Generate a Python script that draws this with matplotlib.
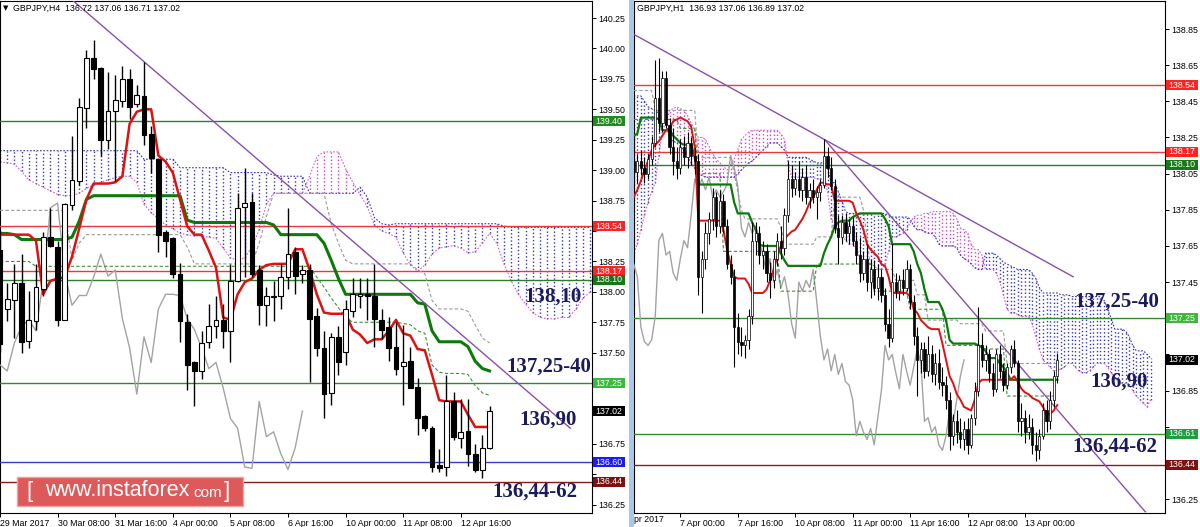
import matplotlib
matplotlib.use("Agg")
import matplotlib.pyplot as plt
from matplotlib.patches import Rectangle
import numpy as np

W, H = 1200, 527

# ---------------- LEFT PANEL (GBPJPY H4) ----------------
L_open = [138.34, 137.86, 137.93, 138.07, 137.60, 137.76, 138.02, 138.45, 138.37, 137.77, 138.71, 138.91, 139.51, 139.92, 139.84, 139.25, 139.49, 139.57, 139.75, 139.54, 139.61, 139.30, 139.09, 138.49, 138.44, 138.15, 137.75, 137.42, 137.35, 137.59, 137.72, 137.77, 137.68, 138.09, 138.70, 138.74, 138.18, 137.89, 137.96, 137.97, 138.12, 138.33, 138.15, 138.18, 137.80, 137.54, 137.17, 137.63, 137.51, 137.84, 137.97, 137.98, 137.97, 137.77, 137.71, 137.55, 137.39, 137.43, 137.22, 136.98, 136.88, 136.58, 136.56, 137.10, 136.80, 136.86, 136.67, 136.54, 136.72]
L_high = [138.51, 138.07, 138.23, 138.31, 138.01, 138.23, 138.49, 138.69, 138.42, 138.73, 139.28, 139.59, 139.99, 140.07, 139.85, 139.81, 139.78, 139.86, 139.835, 139.70, 139.89, 139.36, 139.10, 138.51, 138.45, 138.24, 137.82, 137.43, 137.68, 137.90, 137.97, 137.90, 138.23, 138.81, 139.02, 138.81, 138.22, 138.04, 138.09, 138.23, 138.69, 138.37, 138.22, 138.23, 137.87, 137.68, 137.66, 137.72, 137.93, 138.11, 138.11, 138.11, 138.23, 137.86, 137.79, 137.75, 137.73, 137.55, 137.29, 136.99, 136.90, 136.71, 137.32, 137.18, 137.12, 137.12, 136.75, 136.82, 137.06]
L_low = [137.51, 137.76, 137.62, 137.50, 137.54, 137.69, 137.97, 138.37, 137.72, 137.77, 138.67, 138.88, 139.35, 139.75, 139.12, 139.17, 138.91, 139.52, 139.42, 139.52, 139.21, 138.98, 138.33, 138.29, 138.11, 137.59, 137.19, 137.06, 137.28, 137.54, 137.62, 137.54, 137.42, 138.08, 138.12, 138.12, 137.73, 137.72, 137.76, 137.86, 138.02, 137.98, 138.07, 137.26, 137.47, 136.96, 137.07, 137.32, 137.40, 137.79, 137.87, 137.77, 137.55, 137.61, 137.43, 137.32, 137.07, 137.21, 136.82, 136.86, 136.52, 136.52, 136.49, 136.78, 136.72, 136.57, 136.52, 136.47, 136.71]
L_close = [137.57, 137.94, 138.07, 137.59, 137.77, 138.04, 138.45, 138.38, 137.77, 138.72, 138.92, 139.52, 139.92, 139.835, 139.25, 139.49, 139.58, 139.75, 139.52, 139.62, 139.29, 139.10, 138.47, 138.42, 138.15, 137.76, 137.40, 137.35, 137.58, 137.72, 137.77, 137.68, 138.09, 138.69, 138.73, 138.15, 137.89, 137.97, 137.97, 138.12, 138.31, 138.13, 138.18, 137.78, 137.54, 137.16, 137.63, 137.42, 137.86, 137.98, 137.98, 137.97, 137.78, 137.69, 137.54, 137.37, 137.42, 137.21, 136.96, 136.88, 136.56, 136.55, 137.10, 136.81, 136.85, 136.67, 136.54, 136.72, 137.02]
L_tenkan = [138.47, 138.47, 138.47, 138.47, 138.47, 138.42, 137.98, 138.09, 138.11, 138.12, 138.29, 138.52, 138.76, 138.89, 138.89, 138.89, 138.90, 138.95, 139.38, 139.48, 139.50, 139.50, 139.12, 139.07, 138.98, 138.76, 138.54, 138.47, 138.47, 138.34, 138.20, 137.79, 137.77, 137.98, 138.08, 138.11, 138.18, 138.22, 138.23, 138.23, 138.23, 138.35, 138.35, 138.18, 137.98, 137.83, 137.82, 137.82, 137.82, 137.69, 137.65, 137.58, 137.61, 137.61, 137.68, 137.77, 137.66, 137.64, 137.53, 137.52, 137.32, 137.11, 137.10, 137.10, 137.10, 136.99, 136.89, 136.89, 136.89]
L_kijun = [138.48, 138.48, 138.47, 138.43, 138.43, 138.43, 138.43, 138.43, 138.43, 138.43, 138.45, 138.58, 138.76, 138.79, 138.79, 138.79, 138.79, 138.79, 138.79, 138.79, 138.79, 138.79, 138.79, 138.79, 138.79, 138.79, 138.59, 138.57, 138.57, 138.57, 138.57, 138.57, 138.57, 138.57, 138.57, 138.57, 138.57, 138.57, 138.55, 138.47, 138.47, 138.47, 138.47, 138.47, 138.47, 138.40, 138.26, 138.11, 137.98, 137.98, 137.98, 137.98, 137.98, 137.98, 137.98, 137.98, 137.98, 137.98, 137.91, 137.90, 137.68, 137.59, 137.59, 137.59, 137.59, 137.55, 137.43, 137.37, 137.35]
L_aux_gray = [138.67, 138.67, 138.67, 138.67, 138.67, 138.67, 138.67, 138.67, 138.67, 138.67, 138.26, 138.40, 138.47, 138.47, 138.47, 138.47, 138.47, 138.47, 138.47, 138.47, 138.47, 138.47, 138.47, 138.47, 138.47, 138.47, 138.37, 138.23, 138.23, 138.23, 138.23, 138.23, 138.23, 138.23, 138.23, 138.23, 138.40, 138.62, 138.81, 138.81, 138.81, 138.81, 138.81, 138.81, 138.81, 138.81, 138.56, 138.40, 138.26, 138.23, 138.23, 138.23, 138.23, 138.23, 138.23, 138.23, 138.23, 138.23, 138.18, 138.15, 137.93, 137.86, 137.86, 137.86, 137.86, 137.84, 137.73, 137.62, 137.58]
L_aux_green = [138.25, 138.25, 138.25, 138.25, 138.25, 138.21, 138.21, 138.21, 138.21, 138.21, 138.21, 138.21, 138.21, 138.21, 138.21, 138.21, 138.21, 138.21, 138.21, 138.21, 138.21, 138.21, 138.21, 138.21, 138.21, 138.21, 138.21, 138.21, 138.21, 138.21, 138.21, 138.21, 138.21, 138.21, 138.21, 138.21, 138.21, 138.21, 138.21, 138.21, 138.21, 138.21, 138.21, 138.21, 138.12, 138.04, 137.95, 137.87, 137.79, 137.75, 137.75, 137.75, 137.75, 137.75, 137.75, 137.75, 137.74, 137.73, 137.68, 137.66, 137.40, 137.34, 137.33, 137.33, 137.33, 137.32, 137.23, 137.17, 137.15]
L_spanA = [139.16, 139.16, 139.16, 139.16, 139.16, 139.16, 139.16, 139.16, 139.16, 139.16, 139.16, 139.16, 139.16, 139.16, 139.16, 139.16, 139.16, 139.16, 139.16, 139.16, 139.09, 139.09, 139.09, 139.09, 139.09, 139.02, 139.02, 139.02, 139.02, 139.02, 139.02, 139.02, 138.98, 138.98, 138.98, 138.98, 138.98, 138.98, 138.96, 138.95, 138.95, 138.95, 138.95, 138.81, 138.81, 138.81, 138.81, 138.81, 138.81, 138.81, 138.86, 138.78, 138.61, 138.56, 138.55, 138.56, 138.56, 138.56, 138.56, 138.56, 138.56, 138.56, 138.56, 138.56, 138.56, 138.56, 138.56, 138.56, 138.56, 138.56, 138.54, 138.53, 138.53, 138.53, 138.53, 138.53, 138.53, 138.53, 138.53, 138.53, 138.53, 138.53, 138.53]
L_spanB = [139.07, 139.06, 139.05, 138.99, 138.92, 138.89, 138.86, 138.83, 138.80, 138.79, 138.79, 138.81, 138.85, 138.88, 138.90, 138.92, 138.94, 138.95, 138.95, 138.90, 138.72, 138.65, 138.60, 138.55, 138.52, 138.48, 138.47, 138.46, 138.46, 138.45, 138.44, 138.36, 138.28, 138.26, 138.28, 138.37, 138.51, 138.72, 138.81, 138.81, 138.81, 138.81, 138.81, 138.95, 139.11, 139.15, 139.15, 139.15, 139.01, 138.90, 138.80, 138.70, 138.55, 138.50, 138.48, 138.45, 138.32, 138.22, 138.17, 138.22, 138.31, 138.36, 138.37, 138.38, 138.36, 138.32, 138.33, 138.40, 138.48, 138.40, 138.23, 138.09, 137.98, 137.90, 137.83, 137.79, 137.78, 137.78, 137.79, 137.79, 137.86, 137.95, 138.00]
L_xtick_pos = [0, 8, 16, 24, 32, 40, 48, 56, 64]
L_xtick_lab = ["29 Mar 2017", "30 Mar 08:00", "31 Mar 16:00", "4 Apr 00:00", "5 Apr 08:00",
               "6 Apr 16:00", "10 Apr 00:00", "11 Apr 08:00", "12 Apr 16:00"]
L_yticks = [136.25, 136.50, 136.75, 137.00, 137.25, 137.50, 137.75, 138.00, 138.25,
            138.50, 138.75, 139.00, 139.25, 139.50, 139.75, 140.00, 140.25]
L_ylab_hidden = [136.50, 137.00, 137.25, 138.50]   # covered by the price boxes
L_levels = [139.40, 138.54, 138.17, 138.10, 137.25, 136.60, 136.44]
L_level_cols = ["#2e7d2e", "#e83a3a", "#e83a3a", "#2e7d2e", "#2e8b2e", "#3a3acc", "#8b1a1a"]
L_box_vals = [139.40, 138.54, 138.17, 138.10, 137.25, 137.02, 136.60, 136.44]
L_box_cols = ["#1e8c1e", "#ff2222", "#ff2222", "#187818", "#3cb83c", "#000000", "#1a1aff", "#7e1010"]
L_trend = ([10.0, 79.2], [140.40, 136.88])
L_header = "GBPJPY,H4  136.72 137.06 136.71 137.02"

# ---------------- RIGHT PANEL (GBPJPY H1) ----------------
R_open = [138.12, 138.06, 138.12, 138.08, 138.05, 138.13, 138.22, 138.47, 138.33, 138.58, 138.32, 138.20, 138.12, 138.08, 138.20, 138.14, 138.22, 138.15, 138.12, 137.48, 137.58, 137.72, 137.80, 137.92, 137.76, 137.90, 137.76, 137.55, 137.48, 137.20, 137.12, 137.10, 137.13, 137.26, 137.68, 137.72, 137.60, 137.62, 137.50, 137.46, 137.58, 137.68, 137.64, 137.82, 138.02, 137.97, 138.02, 137.96, 138.03, 137.92, 137.96, 137.92, 137.95, 137.99, 138.15, 138.08, 137.98, 137.75, 137.70, 137.78, 137.72, 137.76, 137.68, 137.60, 137.50, 137.58, 137.45, 137.52, 137.42, 137.48, 137.38, 137.22, 137.14, 137.45, 137.40, 137.46, 137.42, 137.52, 137.34, 137.15, 137.02, 137.08, 136.96, 137.05, 136.94, 137.00, 136.90, 136.88, 136.80, 136.60, 136.68, 136.62, 136.58, 136.64, 136.55, 136.70, 136.85, 137.10, 137.02, 137.05, 136.95, 136.86, 137.05, 136.96, 136.88, 136.98, 137.08, 137.00, 136.68, 136.70, 136.62, 136.65, 136.55, 136.52, 136.60, 136.74, 136.68, 136.80, 136.93]
R_high = [138.26, 138.16, 138.18, 138.14, 138.16, 138.26, 138.68, 138.69, 138.62, 138.62, 138.36, 138.30, 138.20, 138.24, 138.26, 138.28, 138.25, 138.20, 138.16, 137.62, 137.78, 137.84, 137.97, 137.95, 137.96, 137.94, 137.80, 137.60, 137.52, 137.28, 137.20, 137.16, 137.30, 137.78, 137.78, 137.76, 137.68, 137.66, 137.56, 137.62, 137.72, 137.76, 137.86, 138.12, 138.10, 138.06, 138.12, 138.08, 138.10, 138.00, 138.02, 137.98, 138.02, 138.24, 138.20, 138.14, 138.02, 137.82, 137.82, 137.83, 137.80, 137.81, 137.73, 137.70, 137.62, 137.66, 137.58, 137.57, 137.55, 137.52, 137.42, 137.30, 137.66, 137.50, 137.49, 137.52, 137.57, 137.55, 137.38, 137.20, 137.12, 137.12, 137.15, 137.10, 137.06, 137.08, 136.98, 136.93, 136.84, 136.72, 136.74, 136.70, 136.68, 136.70, 136.72, 136.90, 137.31, 137.17, 137.10, 137.08, 137.00, 137.08, 137.10, 137.00, 137.00, 137.10, 137.13, 137.02, 136.78, 136.74, 136.72, 136.70, 136.62, 136.64, 136.78, 136.80, 136.85, 136.96, 137.06]
R_low = [137.98, 138.00, 138.04, 138.00, 138.02, 138.10, 138.20, 138.28, 138.28, 138.30, 138.16, 138.04, 138.02, 138.05, 138.10, 138.08, 138.10, 138.05, 137.38, 137.28, 137.52, 137.66, 137.74, 137.70, 137.72, 137.72, 137.52, 137.44, 136.98, 137.05, 137.04, 137.03, 137.08, 137.22, 137.60, 137.55, 137.52, 137.45, 137.36, 137.42, 137.54, 137.58, 137.60, 137.78, 137.92, 137.93, 137.92, 137.90, 137.88, 137.86, 137.89, 137.80, 137.90, 137.97, 138.03, 137.96, 137.72, 137.55, 137.66, 137.68, 137.66, 137.65, 137.55, 137.45, 137.46, 137.40, 137.36, 137.38, 137.35, 137.34, 137.18, 137.09, 137.12, 137.36, 137.35, 137.38, 137.40, 137.30, 137.10, 136.82, 136.95, 136.92, 136.93, 136.90, 136.88, 136.86, 136.82, 136.75, 136.52, 136.55, 136.56, 136.53, 136.52, 136.50, 136.53, 136.66, 136.82, 136.98, 136.96, 136.90, 136.82, 136.84, 136.92, 136.85, 136.86, 136.95, 136.98, 136.62, 136.60, 136.56, 136.58, 136.50, 136.46, 136.47, 136.58, 136.62, 136.64, 136.76, 136.89]
R_close = [138.06, 138.12, 138.08, 138.05, 138.13, 138.22, 138.47, 138.33, 138.58, 138.32, 138.20, 138.12, 138.08, 138.20, 138.14, 138.22, 138.15, 138.12, 137.48, 137.58, 137.72, 137.80, 137.92, 137.76, 137.90, 137.76, 137.55, 137.48, 137.20, 137.12, 137.10, 137.13, 137.26, 137.68, 137.72, 137.60, 137.62, 137.50, 137.46, 137.58, 137.68, 137.64, 137.82, 138.02, 137.97, 138.02, 137.96, 138.03, 137.92, 137.96, 137.92, 137.95, 137.99, 138.15, 138.08, 137.98, 137.75, 137.70, 137.78, 137.72, 137.76, 137.68, 137.60, 137.50, 137.58, 137.45, 137.52, 137.42, 137.48, 137.38, 137.22, 137.14, 137.45, 137.40, 137.46, 137.42, 137.52, 137.34, 137.15, 137.02, 137.08, 136.96, 137.05, 136.94, 137.00, 136.90, 136.88, 136.80, 136.60, 136.68, 136.62, 136.58, 136.64, 136.55, 136.70, 136.85, 137.10, 137.02, 137.05, 136.95, 136.86, 137.05, 136.96, 136.88, 136.98, 137.08, 137.00, 136.68, 136.70, 136.62, 136.65, 136.55, 136.52, 136.60, 136.74, 136.68, 136.80, 136.93, 137.02]
R_tenkan = [137.92, 137.96, 138.01, 138.07, 138.12, 138.18, 138.21, 138.23, 138.26, 138.29, 138.30, 138.34, 138.35, 138.36, 138.35, 138.34, 138.31, 138.20, 137.79, 137.79, 137.79, 137.79, 137.79, 137.79, 137.79, 137.74, 137.63, 137.55, 137.48, 137.47, 137.47, 137.47, 137.44, 137.39, 137.39, 137.39, 137.39, 137.41, 137.46, 137.52, 137.59, 137.65, 137.69, 137.71, 137.73, 137.74, 137.77, 137.80, 137.84, 137.89, 137.92, 137.96, 138.00, 138.00, 137.99, 137.99, 137.90, 137.90, 137.90, 137.90, 137.90, 137.89, 137.83, 137.79, 137.74, 137.66, 137.63, 137.61, 137.59, 137.55, 137.54, 137.48, 137.39, 137.39, 137.39, 137.39, 137.39, 137.37, 137.30, 137.28, 137.24, 137.22, 137.20, 137.19, 137.19, 137.19, 137.11, 137.02, 136.93, 136.89, 136.83, 136.80, 136.76, 136.75, 136.74, 136.80, 136.89, 136.91, 136.91, 136.91, 136.91, 136.91, 136.91, 136.91, 136.91, 136.91, 136.93, 136.90, 136.86, 136.84, 136.83, 136.81, 136.80, 136.79, 136.76, 136.72, 136.72, 136.74, 136.77]
R_kijun = [138.26, 138.27, 138.36, 138.36, 138.36, 138.36, 138.36, 138.35, 138.29, 138.29, 138.29, 138.26, 138.24, 138.22, 138.21, 138.21, 138.21, 138.14, 137.99, 137.99, 137.99, 137.99, 137.99, 137.99, 137.99, 137.99, 137.99, 137.99, 137.89, 137.83, 137.83, 137.83, 137.83, 137.78, 137.74, 137.66, 137.65, 137.65, 137.65, 137.65, 137.65, 137.61, 137.57, 137.54, 137.54, 137.54, 137.54, 137.54, 137.54, 137.54, 137.54, 137.54, 137.54, 137.61, 137.66, 137.70, 137.76, 137.78, 137.79, 137.79, 137.79, 137.81, 137.82, 137.83, 137.83, 137.83, 137.83, 137.83, 137.83, 137.83, 137.80, 137.76, 137.66, 137.66, 137.66, 137.66, 137.66, 137.66, 137.62, 137.55, 137.50, 137.41, 137.34, 137.34, 137.34, 137.34, 137.30, 137.24, 137.13, 137.11, 137.11, 137.11, 137.11, 137.11, 137.11, 137.11, 137.10, 137.09, 137.07, 137.03, 137.03, 137.03, 137.00, 136.98, 136.95, 136.91, 136.91, 136.91, 136.91, 136.91, 136.91, 136.91, 136.91, 136.91, 136.91, 136.91, 136.91, 136.91, 136.91]
R_aux_gray = [138.51, 138.51, 138.51, 138.51, 138.51, 138.51, 138.40, 138.40, 138.40, 138.40, 138.40, 138.40, 138.40, 138.40, 138.40, 138.40, 138.40, 138.40, 138.14, 138.14, 138.14, 138.14, 138.14, 138.14, 138.14, 138.14, 138.14, 138.14, 138.05, 137.95, 137.85, 137.80, 137.80, 137.80, 137.80, 137.80, 137.80, 137.80, 137.80, 137.80, 137.80, 137.75, 137.66, 137.66, 137.66, 137.66, 137.66, 137.66, 137.66, 137.66, 137.66, 137.70, 137.70, 137.70, 137.70, 137.70, 137.92, 137.92, 137.92, 137.92, 137.92, 137.92, 137.92, 137.92, 137.85, 137.70, 137.52, 137.52, 137.52, 137.52, 137.52, 137.52, 137.52, 137.46, 137.46, 137.46, 137.46, 137.46, 137.46, 137.38, 137.38, 137.38, 137.24, 137.24, 137.24, 137.24, 137.24, 137.24, 137.24, 137.24, 137.24, 137.22, 137.22, 137.22, 137.22, 137.22, 137.22, 137.22, 137.18, 137.18, 137.18, 137.18, 137.18, 137.18, 137.00, 137.00, 137.00, 137.00, 137.00, 137.00, 137.00, 137.00, 137.00, 137.00, 137.00, 137.00, 137.00, 137.00, 137.00]
R_aux_green = [138.35, 138.35, 138.35, 138.35, 138.35, 138.35, 138.35, 138.35, 138.35, 138.35, 138.35, 138.35, 138.35, 138.30, 138.30, 138.30, 138.30, 138.30, 138.05, 138.05, 138.05, 138.05, 138.05, 138.05, 138.05, 137.62, 137.62, 137.62, 137.62, 137.62, 137.62, 137.62, 137.62, 137.62, 137.62, 137.62, 137.62, 137.62, 137.62, 137.62, 137.62, 137.40, 137.40, 137.40, 137.40, 137.40, 137.40, 137.40, 137.40, 137.40, 137.40, 137.55, 137.55, 137.55, 137.55, 137.55, 137.55, 137.55, 137.55, 137.55, 137.55, 137.55, 137.55, 137.55, 137.55, 137.55, 137.55, 137.40, 137.40, 137.40, 137.40, 137.40, 137.40, 137.40, 137.40, 137.40, 137.40, 137.30, 137.30, 137.30, 137.30, 137.30, 137.30, 137.30, 137.30, 137.30, 137.30, 137.10, 137.10, 137.10, 137.10, 137.10, 137.10, 137.10, 137.10, 137.10, 137.10, 137.10, 137.08, 137.08, 137.08, 137.08, 137.08, 137.08, 136.82, 136.82, 136.82, 136.82, 136.82, 136.82, 136.82, 136.82, 136.82, 136.82, 136.82, 136.82, 136.82, 136.82, 136.82]
R_spanA = [138.48, 138.48, 138.48, 138.45, 138.42, 138.41, 138.40, 138.38, 138.36, 138.33,
           138.24, 138.23, 138.22, 138.20, 138.18, 138.14, 138.11, 138.08, 138.05, 138.04,
           138.03, 138.03, 138.03, 138.03, 138.03, 138.03, 138.03, 138.03, 138.03, 138.05,
           138.07, 138.09, 138.11, 138.12, 138.14, 138.16, 138.18, 138.20, 138.22, 138.22,
           138.22, 138.20, 138.18, 138.14, 138.14, 138.14, 138.14, 138.14, 138.14, 138.13,
           138.12, 138.11, 138.11, 138.11, 138.08, 138.00, 138.00, 137.95, 137.90, 137.84,
           137.83, 137.83, 137.83, 137.83, 137.83, 137.83, 137.83, 137.83, 137.83, 137.83,
           137.83, 137.82, 137.81, 137.81, 137.81, 137.81, 137.81, 137.80, 137.76, 137.74,
           137.74, 137.73, 137.72, 137.72, 137.70, 137.66, 137.65, 137.65, 137.65, 137.65,
           137.64, 137.60, 137.58, 137.57, 137.55, 137.53, 137.52, 137.52, 137.61, 137.61,
           137.61, 137.60, 137.58, 137.56, 137.55, 137.54, 137.53, 137.52, 137.52, 137.52,
           137.52, 137.50, 137.47, 137.42, 137.39, 137.39, 137.39, 137.39, 137.39, 137.38,
           137.38, 137.38, 137.37, 137.37, 137.37, 137.37, 137.37, 137.37, 137.37, 137.37,
           137.37, 137.35, 137.30, 137.25, 137.19, 137.19, 137.19, 137.18, 137.15, 137.10,
           137.07, 137.07, 137.07, 137.05, 137.03]
R_spanB = [137.61, 137.66, 137.74, 137.82, 137.89, 137.95, 138.00, 138.15, 138.29, 138.33,
           138.40, 138.41, 138.42, 138.41, 138.40, 138.37, 138.33, 138.29, 138.25, 138.25,
           138.24, 138.20, 138.16, 138.13, 138.11, 138.09, 138.07, 138.10, 138.13, 138.18,
           138.24, 138.26, 138.28, 138.29, 138.29, 138.29, 138.29, 138.29, 138.29, 138.29,
           138.29, 138.27, 138.24, 138.10, 138.03, 138.03, 138.03, 138.03, 138.03, 138.03,
           138.03, 138.02, 138.02, 138.02, 137.95, 137.80, 137.74, 137.74, 137.72, 137.68,
           137.66, 137.66, 137.64, 137.58, 137.55, 137.55, 137.55, 137.54, 137.52, 137.52,
           137.55, 137.62, 137.70, 137.70, 137.71, 137.72, 137.74, 137.78, 137.81, 137.82,
           137.82, 137.83, 137.83, 137.84, 137.84, 137.84, 137.84, 137.84, 137.84, 137.83,
           137.80, 137.75, 137.74, 137.72, 137.66, 137.63, 137.63, 137.60, 137.52, 137.52,
           137.52, 137.50, 137.45, 137.38, 137.30, 137.28, 137.28, 137.27, 137.26, 137.26,
           137.26, 137.22, 137.15, 137.08, 137.02, 137.00, 136.98, 136.96, 136.96, 136.97,
           136.98, 137.00, 137.00, 136.98, 136.96, 136.95, 136.95, 136.96, 136.98, 137.00,
           137.00, 137.00, 136.98, 136.95, 136.92, 136.90, 136.89, 136.89, 136.88, 136.85,
           136.82, 136.80, 136.78, 136.76, 136.80]
R_xtick_pos = [13, 29, 45, 61, 77, 93, 109]
R_xtick_lab = ["7 Apr 00:00", "7 Apr 16:00", "10 Apr 08:00", "11 Apr 00:00",
               "11 Apr 16:00", "12 Apr 08:00", "13 Apr 00:00"]
R_yticks = [136.25, 136.45, 136.65, 136.85, 137.05, 137.25, 137.45, 137.65, 137.85,
            138.05, 138.25, 138.45, 138.65, 138.85]
R_ylab_hidden = [136.45, 136.65, 137.05, 137.25]   # covered by the price boxes
R_levels = [138.54, 138.17, 138.10, 137.25, 136.61, 136.44]
R_level_cols = ["#e83a3a", "#e83a3a", "#2e7d2e", "#2e8b2e", "#2e8b2e", "#8b1a1a"]
R_box_vals = [138.54, 138.17, 138.10, 137.25, 137.02, 136.61, 136.44]
R_box_cols = ["#ff2222", "#ff2222", "#187818", "#3cb83c", "#000000", "#1e9e3e", "#7e1010"]
R_trend1 = ([0.08, 122.4], [138.82, 137.48])
R_trend2 = ([53.3, 142.5], [138.236, 136.18])
R_header = "GBPJPY,H1  136.93 137.06 136.89 137.02"

CHIKOU_SHIFT = 26
NAVY = "#1b1b5c"
FONT = "Liberation Sans"

fig = plt.figure(figsize=(W / 100, H / 100), dpi=100)
fig.patch.set_facecolor("white")


def add_ax(x0, x1, ytop, ybot):
    return fig.add_axes([x0 / W, 1 - ybot / H, (x1 - x0) / W, (ybot - ytop) / H])


axL = add_ax(0, 592, 1, 513)
axR = add_ax(634, 1165, 1, 513)


def candles(ax, o, h, l, c, width, wlw, blw, minh):
    o, h, l, c = map(np.asarray, (o, h, l, c))
    idx = np.arange(len(o))
    ax.vlines(idx, l, h, color="black", lw=wlw, zorder=6)
    up = c >= o
    bot = np.minimum(o, c)
    hei = np.maximum(np.abs(c - o), minh)
    ax.bar(idx[up], hei[up], width, bot[up], facecolor="white", edgecolor="black", lw=blw, zorder=7)
    ax.bar(idx[~up], hei[~up], width, bot[~up], facecolor="black", edgecolor="black", lw=blw, zorder=7)


def cloud(ax, a, b, lw, dash):
    a, b = np.asarray(a), np.asarray(b)
    k = np.arange(len(a))
    blue = a >= b
    ax.vlines(k[blue], b[blue], a[blue], colors="#3434c4", linestyles=[(0, dash)], lw=lw, zorder=2)
    ax.vlines(k[~blue], a[~blue], b[~blue], colors="#cc44cc", linestyles=[(0, dash)], lw=lw, zorder=2)
    ax.plot(k, a, color="#3434c4", ls=(0, (1.5, 1.5)), lw=0.8, zorder=2)
    ax.plot(k, b, color="#d060d0", ls=(0, (1.5, 1.5)), lw=0.8, zorder=2)


def panel(ax, o, h, l, c, tenkan, kijun, auxg, auxgr, spanA, spanB, levels, lcols,
          xlim, ylim, yticks, hidden, xpos, xlab, width, tk_lw, kj_lw, wlw, blw, minh, clw, dash):
    ax.set_xlim(*xlim)
    ax.set_ylim(*ylim)
    cloud(ax, spanA, spanB, clw, dash)
    for lv, col in zip(levels, lcols):
        ax.axhline(lv, color=col, lw=1.0, zorder=3)
    n = len(c)
    ax.plot(np.arange(n - CHIKOU_SHIFT), np.asarray(c)[CHIKOU_SHIFT:], color="#a3a3a3", lw=1.0, zorder=4)
    ax.plot(np.arange(n), auxg, color="#9a9a9a", ls=(0, (3, 2)), lw=0.8, zorder=4)
    ax.plot(np.arange(n), auxgr, color="#3f8f3f", ls=(0, (3, 2)), lw=0.8, zorder=4)
    ax.plot(np.arange(n), kijun, color="#0a7a0a", lw=kj_lw, zorder=5)
    ax.plot(np.arange(n), tenkan, color="#e01010", lw=tk_lw, zorder=5)
    candles(ax, o, h, l, c, width, wlw, blw, minh)
    ax.yaxis.tick_right()
    ax.set_yticks(yticks)
    ax.set_yticklabels(["" if v in hidden else f"{v:.2f}" for v in yticks])
    ax.set_xticks(xpos)
    ax.set_xticklabels(xlab, ha="left")
    ax.tick_params(axis="both", direction="out", length=3, width=0.7, pad=1.5,
                   labelsize=6.3, colors="black")
    for lab in ax.get_xticklabels() + ax.get_yticklabels():
        lab.set_fontfamily(FONT)
    for sp in ax.spines.values():
        sp.set_color("black")
        sp.set_linewidth(0.8)
    ax.set_facecolor("white")


panel(axL, L_open, L_high, L_low, L_close, L_tenkan, L_kijun, L_aux_gray, L_aux_green,
      L_spanA, L_spanB, L_levels, L_level_cols, (0, 592 / 7.2), (136.183, 140.390),
      L_yticks, L_ylab_hidden, L_xtick_pos, L_xtick_lab, 0.68, 1.8, 2.2, 1.0, 0.8, 0.006, 1.0, (1, 1.6))
panel(axR, R_open, R_high, R_low, R_close, R_tenkan, R_kijun, R_aux_gray, R_aux_green,
      R_spanA, R_spanB, R_levels, R_level_cols, (0.084, 148.0), (136.173, 139.005),
      R_yticks, R_ylab_hidden, R_xtick_pos, R_xtick_lab, 0.62, 1.4, 1.6, 0.8, 0.5, 0.006, 1.0, (1, 1.7))

axL.plot(*L_trend, color="#8a4fae", lw=1.0, zorder=5)
axR.plot(*R_trend1, color="#8a4fae", lw=1.0, zorder=5)
axR.plot(*R_trend2, color="#8a4fae", lw=1.0, zorder=5)

# separator between the two windows
fig.add_artist(Rectangle((629 / W, 0), 5 / W, 1, transform=fig.transFigure,
                         facecolor="#a9c8e6", edgecolor="none", zorder=1))
fig.text(634 / W, 1 - 520 / H, "pr 2017", fontsize=6.3, family=FONT, va="center", ha="left")


def level_boxes(ax, vals, cols, x0, x1):
    for v, col in zip(vals, cols):
        yd = ax.transData.transform((ax.get_xlim()[0], v))[1]
        fig.add_artist(Rectangle((x0 / W, (yd - 5) / H), (x1 - x0) / W, 10 / H,
                                 transform=fig.transFigure, facecolor=col,
                                 edgecolor="none", zorder=5))
        fig.text((x0 + x1) / 2 / W, yd / H, f"{v:.2f}", color="white", fontsize=6.3,
                 family=FONT, ha="center", va="center", zorder=6)


level_boxes(axL, L_box_vals, L_box_cols, 593, 625)
level_boxes(axR, R_box_vals, R_box_cols, 1166, 1198)

# headers
fig.text(3 / W, 1 - 8 / H, "\u25bc", fontsize=5, family="DejaVu Sans", va="center", ha="left")
fig.text(13 / W, 1 - 8 / H, L_header, fontsize=6.3, family=FONT, va="center", ha="left")
fig.text(637 / W, 1 - 8 / H, R_header, fontsize=6.3, family=FONT, va="center", ha="left")


def note(x, y, s):
    fig.text(x / W, 1 - y / H, s, fontsize=15, family="Liberation Serif", weight="bold",
             color=NAVY, ha="center", va="center", zorder=8)


note(553, 297, "138,10")
note(549, 367, "137,25-40")
note(548, 420, "136,90")
note(535, 492, "136,44-62")
note(1117, 302, "137,25-40")
note(1119, 382, "136,90")
note(1115, 447, "136,44-62")

# instaforex logo
fig.add_artist(Rectangle((17 / W, 1 - 506 / H), 226 / W, 29 / H, transform=fig.transFigure,
                         facecolor="#de5a5a", edgecolor="#f0a0a0", lw=1, zorder=7))
fig.text(29 / W, 1 - 492 / H, "[", fontsize=16, family=FONT, color="white", ha="center", va="center", zorder=8)
fig.text(45 / W, 1 - 491 / H, "www.instaforex", fontsize=15.5, family=FONT, color="white", ha="left", va="center", zorder=8)
fig.text(193 / W, 1 - 493 / H, "com", fontsize=11, family=FONT, color="white", ha="left", va="center", zorder=8)
fig.text(227 / W, 1 - 492 / H, "]", fontsize=16, family=FONT, color="white", ha="center", va="center", zorder=8)

fig.savefig("out.png", dpi=100)
